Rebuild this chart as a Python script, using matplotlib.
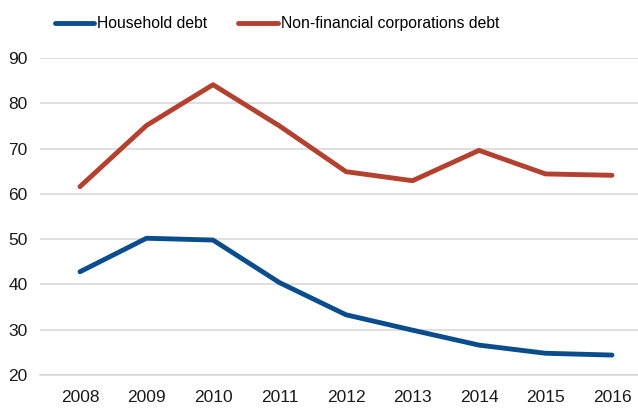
import matplotlib
matplotlib.use("Agg")
from matplotlib import pyplot as plt

years = [2008, 2009, 2010, 2011, 2012, 2013, 2014, 2015, 2016]
household = [42.8, 50.2, 49.8, 40.4, 33.3, 29.9, 26.6, 24.8, 24.4]
nonfin = [61.6, 75.1, 84.1, 75.0, 64.9, 62.9, 69.6, 64.4, 64.1]
yticks = [20, 30, 40, 50, 60, 70, 80, 90]

plt.rcParams['font.family'] = ['Liberation Sans', 'DejaVu Sans']

fig = plt.figure(figsize=(6.38, 4.09), dpi=100)
ax = fig.add_axes([40/638, 34/409, 598/638, 317/409])

ax.plot(years, household, color="#0a4d8c", lw=3.5, label="Household debt", solid_capstyle="round")
ax.plot(years, nonfin, color="#b3412f", lw=3.5, label="Non-financial corporations debt", solid_capstyle="round")

ax.set_ylim(20, 90)
ax.set_xlim(2008 - 40/66.5, 2016 + 26/66.5)
ax.set_yticks(yticks)
ax.set_xticks(years)
ax.grid(axis="y", color="#d9d9d9", lw=1.2)
ax.set_axisbelow(True)
for s in ["top", "right", "left"]:
    ax.spines[s].set_visible(False)
ax.spines["bottom"].set_color("#d9d9d9")
ax.spines["bottom"].set_linewidth(1.2)
ax.tick_params(length=0, labelsize=12.5, colors="#1a1a1a")
ax.tick_params(axis="y", pad=9)
ax.tick_params(axis="x", pad=11)

fig.legend(loc="upper center", bbox_to_anchor=(0.434, 0.995), ncol=2, frameon=False,
           fontsize=11.3, handlelength=2.5, handletextpad=0.2, columnspacing=2.0)

fig.savefig("out.png", dpi=100)
